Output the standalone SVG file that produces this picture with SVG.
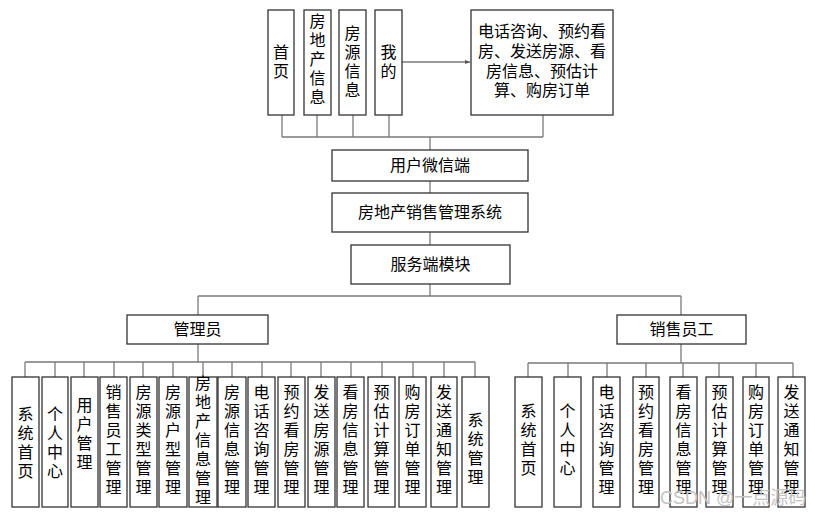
<svg xmlns="http://www.w3.org/2000/svg" width="815" height="519" viewBox="0 0 815 519">
  <style>
    .box { fill: #ffffff; stroke: #333333; stroke-width: 1.3; }
    .lbl { font-family: "Liberation Sans", "Noto Sans CJK SC", sans-serif; font-size: 16px; fill: #000000; text-anchor: middle; }
    .conn { fill: none; stroke: #7a7a7a; stroke-width: 1.3; }
    .mark { font-family: "Liberation Sans", "Noto Sans CJK SC", sans-serif; font-size: 18px; fill: #c4c4c4; }
  </style>
  <defs>
    <marker id="arrow" markerWidth="6" markerHeight="6" refX="5" refY="3" orient="auto" markerUnits="userSpaceOnUse">
      <path d="M0,1 L5,3 L0,5 Z" fill="#555555"/>
    </marker>
  </defs>
  <rect width="815" height="519" fill="#ffffff"/>

  <!-- connectors -->
  <g id="connectors" class="conn">
    <path d="M282,115 V137 M317,115 V137 M353,115 V137 M389,115 V137 M543,115 V137 M282,137 H543"/>
    <path d="M402,62 H470" marker-end="url(#arrow)"/>
    <path d="M430,137 V150 M430,181 V193 M430,232 V245 M430,284 V296"/>
    <path d="M198,296 H681 M198,296 V315 M681,296 V315"/>
    <path d="M198,344 V362 M25,362 H475"/>
    <path d="M25,362 V377 M55,362 V377 M84,362 V377 M114,362 V377 M143,362 V377 M173,362 V377 M203,362 V377 M232,362 V377 M262,362 V377 M291,362 V377 M321,362 V377 M351,362 V377 M382,362 V377 M413,362 V377 M444,362 V377 M475,362 V377"/>
    <path d="M681,344 V363 M528,363 H793"/>
    <path d="M528,363 V377 M568,363 V377 M607,363 V377 M646,363 V377 M683,363 V377 M719,363 V377 M756,363 V377 M793,363 V377"/>
  </g>

  <!-- top row: mobile pages -->
  <g id="n-home">
    <rect class="box" x="268" y="10" width="26" height="105"/>
    <text class="lbl"><tspan x="281" y="58">首</tspan><tspan x="281" y="77">页</tspan></text>
  </g>
  <g id="n-estate-info">
    <rect class="box" x="304" y="10" width="27" height="105"/>
    <text class="lbl"><tspan x="317.5" y="27">房</tspan><tspan x="317.5" y="46">地</tspan><tspan x="317.5" y="65">产</tspan><tspan x="317.5" y="84">信</tspan><tspan x="317.5" y="103">息</tspan></text>
  </g>
  <g id="n-house-info">
    <rect class="box" x="339" y="10" width="27" height="105"/>
    <text class="lbl"><tspan x="352.5" y="39">房</tspan><tspan x="352.5" y="58">源</tspan><tspan x="352.5" y="77">信</tspan><tspan x="352.5" y="96">息</tspan></text>
  </g>
  <g id="n-mine">
    <rect class="box" x="375" y="10" width="27" height="105"/>
    <text class="lbl"><tspan x="388.5" y="58">我</tspan><tspan x="388.5" y="77">的</tspan></text>
  </g>
  <g id="n-mine-detail">
    <rect class="box" x="471" y="10" width="142" height="105"/>
    <text class="lbl"><tspan x="542" y="37">电话咨询、预约看</tspan><tspan x="542" y="57">房、发送房源、看</tspan><tspan x="542" y="77">房信息、预估计</tspan><tspan x="542" y="96">算、购房订单</tspan></text>
  </g>

  <!-- central chain -->
  <g id="n-wechat">
    <rect class="box" x="332" y="150" width="196" height="31"/>
    <text class="lbl" x="430" y="171">用户微信端</text>
  </g>
  <g id="n-system">
    <rect class="box" x="332" y="193" width="196" height="39"/>
    <text class="lbl" x="430" y="218">房地产销售管理系统</text>
  </g>
  <g id="n-server">
    <rect class="box" x="351" y="245" width="159" height="39"/>
    <text class="lbl" x="430.5" y="270">服务端模块</text>
  </g>

  <!-- roles -->
  <g id="n-admin">
    <rect class="box" x="127" y="315" width="141" height="29"/>
    <text class="lbl" x="197.5" y="335">管理员</text>
  </g>
  <g id="n-sales">
    <rect class="box" x="617" y="315" width="129" height="29"/>
    <text class="lbl" x="681.5" y="335">销售员工</text>
  </g>

  <!-- admin functions -->
  <g id="a1"><rect class="box" x="12" y="377" width="27" height="130"/>
    <text class="lbl"><tspan x="25.5" y="420">系</tspan><tspan x="25.5" y="439">统</tspan><tspan x="25.5" y="458">首</tspan><tspan x="25.5" y="477">页</tspan></text></g>
  <g id="a2"><rect class="box" x="42" y="377" width="26" height="130"/>
    <text class="lbl"><tspan x="55" y="420">个</tspan><tspan x="55" y="439">人</tspan><tspan x="55" y="458">中</tspan><tspan x="55" y="477">心</tspan></text></g>
  <g id="a3"><rect class="box" x="71" y="377" width="27" height="130"/>
    <text class="lbl"><tspan x="84.5" y="411">用</tspan><tspan x="84.5" y="430">户</tspan><tspan x="84.5" y="449">管</tspan><tspan x="84.5" y="468">理</tspan></text></g>
  <g id="a4"><rect class="box" x="100" y="377" width="27" height="130"/>
    <text class="lbl"><tspan x="113.5" y="398">销</tspan><tspan x="113.5" y="417">售</tspan><tspan x="113.5" y="436">员</tspan><tspan x="113.5" y="455">工</tspan><tspan x="113.5" y="474">管</tspan><tspan x="113.5" y="493">理</tspan></text></g>
  <g id="a5"><rect class="box" x="130" y="377" width="27" height="130"/>
    <text class="lbl"><tspan x="143.5" y="398">房</tspan><tspan x="143.5" y="417">源</tspan><tspan x="143.5" y="436">类</tspan><tspan x="143.5" y="455">型</tspan><tspan x="143.5" y="474">管</tspan><tspan x="143.5" y="493">理</tspan></text></g>
  <g id="a6"><rect class="box" x="159" y="377" width="28" height="130"/>
    <text class="lbl"><tspan x="173" y="398">房</tspan><tspan x="173" y="417">源</tspan><tspan x="173" y="436">户</tspan><tspan x="173" y="455">型</tspan><tspan x="173" y="474">管</tspan><tspan x="173" y="493">理</tspan></text></g>
  <g id="a7"><rect class="box" x="189" y="377" width="28" height="130"/>
    <text class="lbl"><tspan x="203" y="389">房</tspan><tspan x="203" y="408">地</tspan><tspan x="203" y="427">产</tspan><tspan x="203" y="446">信</tspan><tspan x="203" y="465">息</tspan><tspan x="203" y="484">管</tspan><tspan x="203" y="503">理</tspan></text></g>
  <g id="a8"><rect class="box" x="218" y="377" width="28" height="130"/>
    <text class="lbl"><tspan x="232" y="398">房</tspan><tspan x="232" y="417">源</tspan><tspan x="232" y="436">信</tspan><tspan x="232" y="455">息</tspan><tspan x="232" y="474">管</tspan><tspan x="232" y="493">理</tspan></text></g>
  <g id="a9"><rect class="box" x="248" y="377" width="27" height="130"/>
    <text class="lbl"><tspan x="261.5" y="398">电</tspan><tspan x="261.5" y="417">话</tspan><tspan x="261.5" y="436">咨</tspan><tspan x="261.5" y="455">询</tspan><tspan x="261.5" y="474">管</tspan><tspan x="261.5" y="493">理</tspan></text></g>
  <g id="a10"><rect class="box" x="278" y="377" width="27" height="130"/>
    <text class="lbl"><tspan x="291.5" y="398">预</tspan><tspan x="291.5" y="417">约</tspan><tspan x="291.5" y="436">看</tspan><tspan x="291.5" y="455">房</tspan><tspan x="291.5" y="474">管</tspan><tspan x="291.5" y="493">理</tspan></text></g>
  <g id="a11"><rect class="box" x="308" y="377" width="27" height="130"/>
    <text class="lbl"><tspan x="321.5" y="398">发</tspan><tspan x="321.5" y="417">送</tspan><tspan x="321.5" y="436">房</tspan><tspan x="321.5" y="455">源</tspan><tspan x="321.5" y="474">管</tspan><tspan x="321.5" y="493">理</tspan></text></g>
  <g id="a12"><rect class="box" x="337" y="377" width="27" height="130"/>
    <text class="lbl"><tspan x="350.5" y="398">看</tspan><tspan x="350.5" y="417">房</tspan><tspan x="350.5" y="436">信</tspan><tspan x="350.5" y="455">息</tspan><tspan x="350.5" y="474">管</tspan><tspan x="350.5" y="493">理</tspan></text></g>
  <g id="a13"><rect class="box" x="368" y="377" width="27" height="130"/>
    <text class="lbl"><tspan x="381.5" y="398">预</tspan><tspan x="381.5" y="417">估</tspan><tspan x="381.5" y="436">计</tspan><tspan x="381.5" y="455">算</tspan><tspan x="381.5" y="474">管</tspan><tspan x="381.5" y="493">理</tspan></text></g>
  <g id="a14"><rect class="box" x="399" y="377" width="27" height="130"/>
    <text class="lbl"><tspan x="412.5" y="398">购</tspan><tspan x="412.5" y="417">房</tspan><tspan x="412.5" y="436">订</tspan><tspan x="412.5" y="455">单</tspan><tspan x="412.5" y="474">管</tspan><tspan x="412.5" y="493">理</tspan></text></g>
  <g id="a15"><rect class="box" x="431" y="377" width="26" height="130"/>
    <text class="lbl"><tspan x="444" y="398">发</tspan><tspan x="444" y="417">送</tspan><tspan x="444" y="436">通</tspan><tspan x="444" y="455">知</tspan><tspan x="444" y="474">管</tspan><tspan x="444" y="493">理</tspan></text></g>
  <g id="a16"><rect class="box" x="462" y="377" width="27" height="130"/>
    <text class="lbl"><tspan x="475.5" y="426">系</tspan><tspan x="475.5" y="445">统</tspan><tspan x="475.5" y="464">管</tspan><tspan x="475.5" y="483">理</tspan></text></g>

  <!-- sales staff functions -->
  <g id="s1"><rect class="box" x="515" y="377" width="27" height="130"/>
    <text class="lbl"><tspan x="528.5" y="417">系</tspan><tspan x="528.5" y="436">统</tspan><tspan x="528.5" y="455">首</tspan><tspan x="528.5" y="474">页</tspan></text></g>
  <g id="s2"><rect class="box" x="554" y="377" width="27" height="130"/>
    <text class="lbl"><tspan x="567.5" y="417">个</tspan><tspan x="567.5" y="436">人</tspan><tspan x="567.5" y="455">中</tspan><tspan x="567.5" y="474">心</tspan></text></g>
  <g id="s3"><rect class="box" x="593" y="377" width="27" height="130"/>
    <text class="lbl"><tspan x="606.5" y="398">电</tspan><tspan x="606.5" y="417">话</tspan><tspan x="606.5" y="436">咨</tspan><tspan x="606.5" y="455">询</tspan><tspan x="606.5" y="474">管</tspan><tspan x="606.5" y="493">理</tspan></text></g>
  <g id="s4"><rect class="box" x="633" y="377" width="26" height="130"/>
    <text class="lbl"><tspan x="646" y="398">预</tspan><tspan x="646" y="417">约</tspan><tspan x="646" y="436">看</tspan><tspan x="646" y="455">房</tspan><tspan x="646" y="474">管</tspan><tspan x="646" y="493">理</tspan></text></g>
  <g id="s5"><rect class="box" x="670" y="377" width="27" height="130"/>
    <text class="lbl"><tspan x="683.5" y="398">看</tspan><tspan x="683.5" y="417">房</tspan><tspan x="683.5" y="436">信</tspan><tspan x="683.5" y="455">息</tspan><tspan x="683.5" y="474">管</tspan><tspan x="683.5" y="493">理</tspan></text></g>
  <g id="s6"><rect class="box" x="706" y="377" width="27" height="130"/>
    <text class="lbl"><tspan x="719.5" y="398">预</tspan><tspan x="719.5" y="417">估</tspan><tspan x="719.5" y="436">计</tspan><tspan x="719.5" y="455">算</tspan><tspan x="719.5" y="474">管</tspan><tspan x="719.5" y="493">理</tspan></text></g>
  <g id="s7"><rect class="box" x="743" y="377" width="26" height="130"/>
    <text class="lbl"><tspan x="756" y="398">购</tspan><tspan x="756" y="417">房</tspan><tspan x="756" y="436">订</tspan><tspan x="756" y="455">单</tspan><tspan x="756" y="474">管</tspan><tspan x="756" y="493">理</tspan></text></g>
  <g id="s8"><rect class="box" x="778" y="377" width="27" height="130"/>
    <text class="lbl"><tspan x="791.5" y="398">发</tspan><tspan x="791.5" y="417">送</tspan><tspan x="791.5" y="436">通</tspan><tspan x="791.5" y="455">知</tspan><tspan x="791.5" y="474">管</tspan><tspan x="791.5" y="493">理</tspan></text></g>

  <!-- publisher mark -->
  <text class="mark" x="660" y="504">CSDN @一点源码</text>
</svg>
